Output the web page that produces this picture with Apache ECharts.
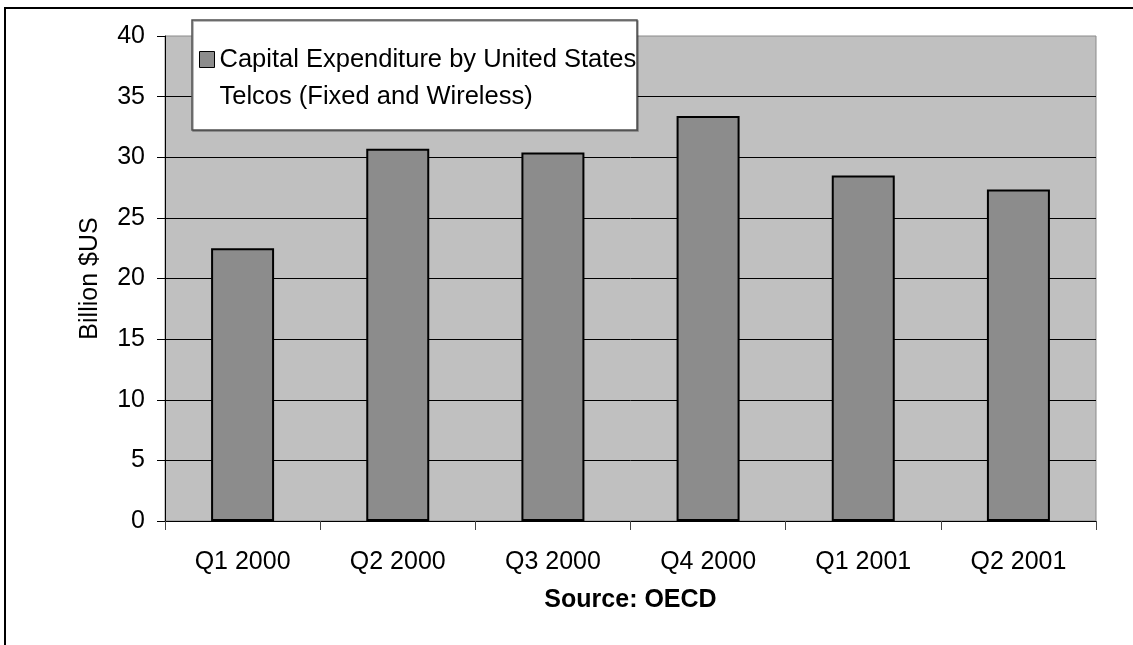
<!DOCTYPE html>
<html>
<head>
<meta charset="utf-8">
<script src="https://cdn.jsdelivr.net/npm/echarts@6/dist/echarts.min.js"></script>
<style>
  html, body { margin: 0; padding: 0; background: #fff; }
  #chart { width: 1133px; height: 645px; }
</style>
</head>
<body>
<div id="chart"></div>
<script>
// values (billion US dollars)
const quarters = ['Q1 2000', 'Q2 2000', 'Q3 2000', 'Q4 2000', 'Q1 2001', 'Q2 2001'];
const capex = [22.5, 30.7, 30.4, 33.4, 28.5, 27.35];
const seriesName = 'Capital Expenditure by United States Telcos (Fixed and Wireless)';

const font = '"Liberation Sans", Arial, sans-serif';

const chart = echarts.init(document.getElementById('chart'), null, { renderer: 'canvas' });

const option = {
  animation: false,
  backgroundColor: '#fff',
  textStyle: { fontFamily: font },
  graphic: [
    {
      // outer frame of the picture
      type: 'rect',
      z: 0,
      shape: { x: 5, y: 8, width: 1200, height: 700 },
      style: { fill: null, stroke: '#000', lineWidth: 2 }
    },
    {
      // legend box
      type: 'rect',
      z: 50,
      shape: { x: 192, y: 20, width: 445, height: 110 },
      style: { fill: '#fff', stroke: '#505050', lineWidth: 1.5,
        shadowColor: 'rgba(0,0,0,0.35)', shadowOffsetX: 1, shadowOffsetY: 1 }
    }
  ],
  legend: {
    left: 199,
    top: 4,
    padding: 0,
    z: 60,
    itemWidth: 15,
    itemHeight: 16,
    icon: 'rect',
    itemStyle: { borderColor: '#000', borderWidth: 1 },
    // leading blank line keeps the first text line level with the icon
    formatter: () => ' \nCapital Expenditure by United States\nTelcos (Fixed and Wireless)',
    textStyle: {
      fontFamily: font,
      fontSize: 25.5,
      color: '#000',
      lineHeight: 37
    },
    data: [seriesName]
  },
  grid: {
    left: 165,
    right: 37,
    top: 36,
    bottom: 124,
    show: true,
    backgroundColor: '#c0c0c0',
    borderColor: '#8a8a8a',
    borderWidth: 1
  },
  xAxis: {
    type: 'category',
    data: quarters,
    name: 'Source: OECD',
    nameLocation: 'middle',
    nameGap: 67,
    nameTextStyle: { fontFamily: font, fontSize: 25, fontWeight: 'bold', color: '#000' },
    axisLine: { lineStyle: { color: '#000', width: 1 } },
    axisTick: { show: true, length: 9, alignWithLabel: false, lineStyle: { color: '#444' } },
    axisLabel: { fontFamily: font, fontSize: 25, color: '#000', margin: 29 },
    splitLine: { show: false }
  },
  yAxis: {
    type: 'value',
    min: 0,
    max: 40,
    interval: 5,
    name: 'Billion $US',
    nameLocation: 'middle',
    nameGap: 62,
    nameTextStyle: { fontFamily: font, fontSize: 25, color: '#000' },
    axisLine: { show: true, lineStyle: { color: '#000', width: 1 } },
    axisTick: { show: true, length: 8, lineStyle: { color: '#000' } },
    axisLabel: { fontFamily: font, fontSize: 25, color: '#000', margin: 20 },
    splitLine: { show: true, showMaxLine: false, lineStyle: { color: '#000', width: 1 } }
  },
  series: [
    {
      name: seriesName,
      type: 'bar',
      data: capex,
      barWidth: 63,
      itemStyle: { color: '#8c8c8c', borderColor: '#000', borderWidth: 2 }
    }
  ]
};

chart.setOption(option);
</script>
</body>
</html>
